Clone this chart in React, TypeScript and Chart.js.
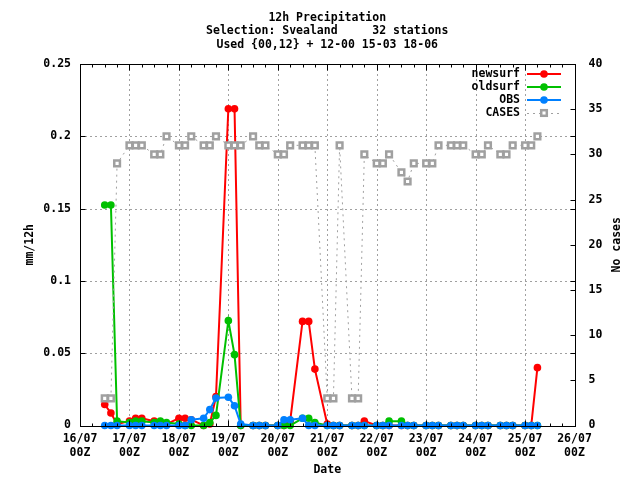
import React, { useEffect, useRef } from "react";
import { Chart, registerables } from "chart.js";

Chart.register(...registerables);

// ---- data ----
const timeLabels = [
  "16/07 12Z", "16/07 15Z", "16/07 18Z",
  "17/07 00Z", "17/07 03Z", "17/07 06Z", "17/07 12Z", "17/07 15Z", "17/07 18Z",
  "18/07 00Z", "18/07 03Z", "18/07 06Z", "18/07 12Z", "18/07 15Z", "18/07 18Z",
  "19/07 00Z", "19/07 03Z", "19/07 06Z", "19/07 12Z", "19/07 15Z", "19/07 18Z",
  "20/07 00Z", "20/07 03Z", "20/07 06Z", "20/07 12Z", "20/07 15Z", "20/07 18Z",
  "21/07 00Z", "21/07 03Z", "21/07 06Z", "21/07 12Z", "21/07 15Z", "21/07 18Z",
  "22/07 00Z", "22/07 03Z", "22/07 06Z", "22/07 12Z", "22/07 15Z", "22/07 18Z",
  "23/07 00Z", "23/07 03Z", "23/07 06Z", "23/07 12Z", "23/07 15Z", "23/07 18Z",
  "24/07 00Z", "24/07 03Z", "24/07 06Z", "24/07 12Z", "24/07 15Z", "24/07 18Z",
  "25/07 00Z", "25/07 03Z", "25/07 06Z",
];

const newsurf = [
  0.0145, 0.0086, 0.001,
  0.003, 0.005, 0.005, 0.003, 0.002, 0.001,
  0.005, 0.005, 0.004, 0.0, 0.001, 0.02,
  0.219, 0.219, 0.0, 0.0, 0.0, 0.0,
  0.0, 0.0, 0.003, 0.072, 0.072, 0.039,
  0.001, 0.0, 0.0, 0.0, 0.0, 0.003,
  0.0, 0.0, 0.0, 0.0, 0.0, 0.0,
  0.0, 0.0, 0.0, 0.0, 0.0, 0.0,
  0.0, 0.0, 0.0, 0.0, 0.0, 0.0,
  0.0, 0.0, 0.04,
];

const oldsurf = [
  0.1525, 0.1525, 0.003,
  0.002, 0.003, 0.003, 0.002, 0.003, 0.002,
  0.001, 0.0, 0.0, 0.0, 0.002, 0.007,
  0.0725, 0.049, 0.0, 0.0, 0.0, 0.0,
  0.0, 0.0, 0.0, 0.005, 0.005, 0.002,
  0.0, 0.0, 0.0, 0.0, 0.0, 0.0,
  0.0, 0.0, 0.003, 0.003, 0.0, 0.0,
  0.0, 0.0, 0.0, 0.0, 0.0, 0.0,
  0.0, 0.0, 0.0, 0.0, 0.0, 0.0,
  0.0, 0.0, 0.0,
];

const obs = [
  0.0, 0.0, 0.0,
  0.0, 0.0, 0.0, 0.0, 0.0, 0.0,
  0.0, 0.0, 0.004, 0.005, 0.011, 0.019,
  0.0195, 0.0137, 0.001, 0.0, 0.0, 0.0,
  0.0, 0.004, 0.004, 0.005, 0.0, 0.0,
  0.0, 0.0, 0.0, 0.0, 0.0, 0.0,
  0.0, 0.0, 0.0, 0.0, 0.0, 0.0,
  0.0, 0.0, 0.0, 0.0, 0.0, 0.0,
  0.0, 0.0, 0.0, 0.0, 0.0, 0.0,
  0.0, 0.0, 0.0,
];

const cases = [
  3, 3, 29,
  31, 31, 31, 30, 30, 32,
  31, 31, 32, 31, 31, 32,
  31, 31, 31, 32, 31, 31,
  30, 30, 31, 31, 31, 31,
  3, 3, 31, 3, 3, 30,
  29, 29, 30, 28, 27, 29,
  29, 29, 31, 31, 31, 31,
  30, 30, 31, 30, 30, 31,
  31, 31, 32,
];

const dayLabels = ["16/07", "17/07", "18/07", "19/07", "20/07", "21/07", "22/07", "23/07", "24/07", "25/07", "26/07"];
const hourLabel = "00Z";
const yTickLabels = ["0", "0.05", "0.1", "0.15", "0.2", "0.25"];
const y2TickLabels = ["0", "5", "10", "15", "20", "25", "30", "35", "40"];
const titleLines = ["12h Precipitation", "Selection: Svealand     32 stations", "Used {00,12} + 12-00 15-03 18-06"];
const xTitle = "Date";
const yTitle = "mm/12h";
const y2Title = "No cases";

const seriesNames = ["newsurf", "oldsurf", "OBS", "CASES"];
const RED = "#ff0000";
const GREEN = "#00c000";
const BLUE = "#0080ff";
const GRAY = "#a0a0a0";

const FAM = '"DejaVu Sans Mono", "Liberation Mono", monospace';
const FONT = `bold 11.5px ${FAM}`;

function toHours(label: string): number {
  const day = parseInt(label.slice(0, 2), 10);
  const hour = parseInt(label.slice(6, 8), 10);
  return (day - 16) * 24 + hour;
}

function pts(values: number[]) {
  return values.map((v, i) => ({ x: toHours(timeLabels[i]), y: v }));
}

const decorPlugin = {
  id: "gnuplotDecor",
  beforeDatasetsDraw(chart: any) {
    const { ctx, chartArea } = chart;
    const xs = chart.scales.x;
    const ys = chart.scales.y;
    ctx.save();
    ctx.strokeStyle = GRAY;
    ctx.lineWidth = 1;
    ctx.setLineDash([2, 3]);
    for (let d = 1; d < dayLabels.length - 1; d++) {
      const x = Math.round(xs.getPixelForValue(d * 24)) + 0.5;
      ctx.beginPath();
      ctx.moveTo(x, chartArea.top);
      ctx.lineTo(x, chartArea.bottom);
      ctx.stroke();
    }
    for (let i = 1; i < yTickLabels.length - 1; i++) {
      const y = Math.round(ys.getPixelForValue(i * 0.05)) + 0.5;
      ctx.beginPath();
      ctx.moveTo(chartArea.left, y);
      ctx.lineTo(chartArea.right, y);
      ctx.stroke();
    }
    ctx.restore();
  },
  afterDatasetsDraw(chart: any) {
    const { ctx, chartArea } = chart;
    const xs = chart.scales.x;
    const ys = chart.scales.y;
    const y2s = chart.scales.y2;
    const L = Math.round(chartArea.left) + 0.5;
    const R = Math.round(chartArea.right) + 0.5;
    const T = Math.round(chartArea.top) + 0.5;
    const B = Math.round(chartArea.bottom) + 0.5;
    ctx.save();
    ctx.setLineDash([]);
    ctx.strokeStyle = "#000";
    ctx.lineWidth = 1;
    ctx.strokeRect(L, T, R - L, B - T);
    ctx.beginPath();
    for (let h = 0; h <= 240; h += 6) {
      const x = Math.round(xs.getPixelForValue(h)) + 0.5;
      const len = h % 24 === 0 ? 6 : 3;
      ctx.moveTo(x, B);
      ctx.lineTo(x, B - len);
      ctx.moveTo(x, T);
      ctx.lineTo(x, T + len);
    }
    for (let i = 0; i < yTickLabels.length; i++) {
      const y = Math.round(ys.getPixelForValue(i * 0.05)) + 0.5;
      ctx.moveTo(L, y);
      ctx.lineTo(L + 5, y);
      ctx.moveTo(R, y);
      ctx.lineTo(R - 5, y);
    }
    for (let i = 0; i < y2TickLabels.length; i++) {
      const y = Math.round(y2s.getPixelForValue(i * 5)) + 0.5;
      ctx.moveTo(R, y);
      ctx.lineTo(R - 5, y);
    }
    ctx.stroke();

    ctx.fillStyle = "#000";
    ctx.font = FONT;
    ctx.textAlign = "center";
    ctx.textBaseline = "middle";
    const cx = (chartArea.left + chartArea.right) / 2;
    const cy = (chartArea.top + chartArea.bottom) / 2;
    const titleY = [18, 31, 45];
    titleLines.forEach((t, i) => ctx.fillText(t, cx, titleY[i]));
    ctx.fillText(xTitle, cx, 470);

    ctx.save();
    ctx.translate(30, cy);
    ctx.rotate(-Math.PI / 2);
    ctx.fillText(yTitle, 0, 0);
    ctx.restore();

    ctx.save();
    ctx.translate(617, cy);
    ctx.rotate(-Math.PI / 2);
    ctx.fillText(y2Title, 0, 0);
    ctx.restore();

    const colors = [RED, GREEN, BLUE, GRAY];
    const rowY = [74, 87, 100, 113];
    const textRight = 520;
    const x0 = 527;
    const x1 = 561;
    const xm = 544;
    for (let i = 0; i < seriesNames.length; i++) {
      const y = rowY[i];
      ctx.fillStyle = "#000";
      ctx.textAlign = "right";
      ctx.fillText(seriesNames[i], textRight, y);
      ctx.strokeStyle = colors[i];
      if (i < 3) {
        ctx.setLineDash([]);
        ctx.lineWidth = 2;
        ctx.beginPath();
        ctx.moveTo(x0, y);
        ctx.lineTo(x1, y);
        ctx.stroke();
        ctx.fillStyle = colors[i];
        ctx.beginPath();
        ctx.arc(xm, y, 3.8, 0, Math.PI * 2);
        ctx.fill();
      } else {
        ctx.setLineDash([2, 4]);
        ctx.lineWidth = 1;
        ctx.beginPath();
        ctx.moveTo(x0, y + 0.5);
        ctx.lineTo(x1, y + 0.5);
        ctx.stroke();
        ctx.setLineDash([]);
        ctx.lineWidth = 2.5;
        ctx.fillStyle = "#fff";
        ctx.fillRect(xm - 2.8, y - 2.8, 5.6, 5.6);
        ctx.strokeRect(xm - 2.8, y - 2.8, 5.6, 5.6);
      }
    }
    ctx.restore();
  },
};

export default function App() {
  const ref = useRef<HTMLCanvasElement | null>(null);

  useEffect(() => {
    document.body.style.margin = "0";
    const canvas = ref.current;
    if (!canvas) return;
    const tickFont = { family: FAM, size: 11.5, weight: "bold" as const };
    const lineSet = (label: string, values: number[], color: string, order: number) => ({
      label,
      data: pts(values),
      borderColor: color,
      backgroundColor: color,
      borderWidth: 2,
      pointRadius: 3.8,
      pointBorderWidth: 0,
      pointBackgroundColor: color,
      yAxisID: "y",
      order,
      clip: false,
      tension: 0,
    });
    const chart = new Chart(canvas, {
      type: "line",
      data: {
        datasets: [
          lineSet(seriesNames[0], newsurf, RED, 4),
          lineSet(seriesNames[1], oldsurf, GREEN, 3),
          lineSet(seriesNames[2], obs, BLUE, 2),
          {
            label: seriesNames[3],
            data: pts(cases),
            borderColor: GRAY,
            backgroundColor: "#ffffff",
            borderWidth: 1,
            borderDash: [2, 4],
            pointStyle: "rect",
            pointRadius: 4,
            pointBorderWidth: 2.5,
            pointBorderColor: GRAY,
            pointBackgroundColor: "#ffffff",
            yAxisID: "y2",
            order: 1,
            clip: false,
            tension: 0,
          },
        ] as any,
      },
      options: {
        responsive: false,
        animation: false,
        devicePixelRatio: 1,
        events: [],
        layout: { padding: { top: 64, left: 0, right: 0, bottom: 0 } },
        plugins: {
          legend: { display: false },
          title: { display: false },
          tooltip: { enabled: false },
        },
        scales: {
          x: {
            type: "linear",
            min: 0,
            max: 240,
            afterFit: (s: any) => {
              s.height = 54.5;
            },
            grid: { display: false, drawTicks: false },
            border: { display: false },
            ticks: {
              stepSize: 24,
              autoSkip: false,
              maxRotation: 0,
              minRotation: 0,
              padding: 7,
              color: "#000",
              font: tickFont,
              callback: (v: any) => {
                const i = Math.round(Number(v) / 24);
                return [dayLabels[i], hourLabel];
              },
            },
          },
          y: {
            type: "linear",
            position: "left",
            min: 0,
            max: 0.25,
            afterFit: (s: any) => {
              s.width = 80;
            },
            grid: { display: false, drawTicks: false },
            border: { display: false },
            ticks: {
              stepSize: 0.05,
              padding: 9,
              color: "#000",
              font: tickFont,
              callback: (_v: any, i: number) => yTickLabels[i],
            },
          },
          y2: {
            type: "linear",
            position: "right",
            min: 0,
            max: 40,
            afterFit: (s: any) => {
              s.width = 65.5;
            },
            grid: { display: false, drawTicks: false },
            border: { display: false },
            ticks: {
              stepSize: 5,
              padding: 14,
              color: "#000",
              font: tickFont,
              callback: (_v: any, i: number) => y2TickLabels[i],
            },
          },
        },
      } as any,
      plugins: [decorPlugin],
    });
    return () => chart.destroy();
  }, []);

  return (
    <div style={{ width: 640, height: 480, background: "#fff" }}>
      <canvas ref={ref} width={640} height={480} style={{ display: "block" }} />
    </div>
  );
}
